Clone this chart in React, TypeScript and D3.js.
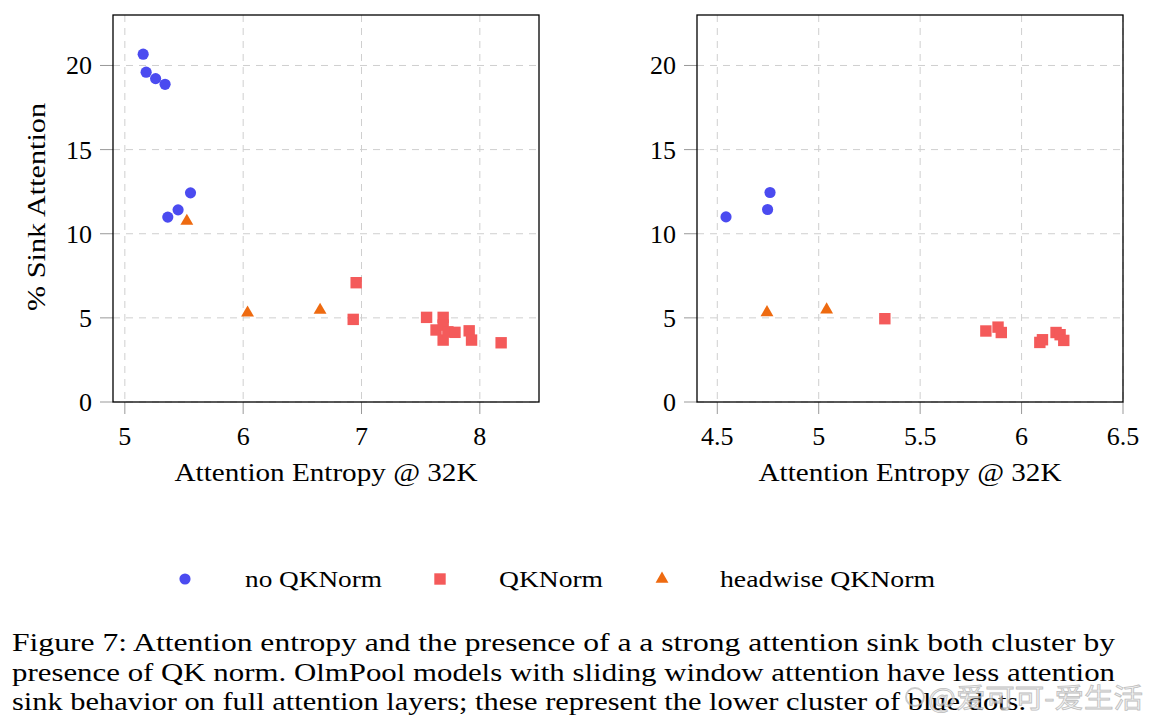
import * as d3 from 'd3';

// left panel: all models
const leftNoQkX = [5.155, 5.18, 5.26, 5.34, 5.555, 5.45, 5.363];
const leftNoQkY = [20.67, 19.6, 19.22, 18.88, 12.43, 11.42, 10.99];
const leftQkX = [6.955, 6.93, 7.55, 7.69, 7.63, 7.69, 7.69, 7.73, 7.79, 7.91, 7.93, 8.18];
const leftQkY = [7.09, 4.91, 5.03, 5.03, 4.28, 4.57, 3.68, 4.17, 4.14, 4.23, 3.68, 3.52];
const leftHeadX = [5.524, 6.037, 6.65];
const leftHeadY = [10.75, 5.3, 5.46];

// right panel
const rightNoQkX = [4.543, 4.748, 4.76];
const rightNoQkY = [11.0, 11.44, 12.45];
const rightQkX = [5.326, 5.824, 5.884, 5.9, 6.09, 6.103, 6.17, 6.19, 6.208];
const rightQkY = [4.95, 4.22, 4.45, 4.13, 3.54, 3.7, 4.13, 4.0, 3.66];
const rightHeadX = [4.745, 5.039];
const rightHeadY = [5.32, 5.48];

const yTicks = [0, 5, 10, 15, 20];
const leftXTicks = [5, 6, 7, 8];
const rightXTicks = [4.5, 5, 5.5, 6, 6.5];

const seriesNames = ['no QKNorm', 'QKNorm', 'headwise QKNorm'];
const captionLines = [
	'Figure 7: Attention entropy and the presence of a a strong attention sink both cluster by',
	'presence of QK norm. OlmPool models with sliding window attention have less attention',
	'sink behavior on full attention layers; these represent the lower cluster of blue dots.',
];

const BLUE = '#4b4bf0';
const RED = '#f45a5a';
const ORANGE = '#ee6a10';
const FONT = '"Liberation Serif", "DejaVu Serif", serif';

const circlePath = d3.symbol().type(d3.symbolCircle).size(98)() ?? '';
const squarePath = d3.symbol().type(d3.symbolSquare).size(130)() ?? '';
const trianglePath = d3.symbol().type(d3.symbolTriangle).size(72)() ?? '';

interface PanelProps {
	left: number;
	right: number;
	xDomain: [number, number];
	xTicks: number[];
	noQk: [number[], number[]];
	qk: [number[], number[]];
	head: [number[], number[]];
	yLabel?: boolean;
}

const TOP = 15;
const BOTTOM = 402;

const Panel = ({ left, right, xDomain, xTicks, noQk, qk, head, yLabel }: PanelProps) => {
	const x = d3.scaleLinear().domain(xDomain).range([left, right]);
	const y = d3.scaleLinear().domain([0, 23]).range([BOTTOM, TOP]);
	const fmt = (v: number) => (Number.isInteger(v) ? String(v) : String(v));

	const marks = (xs: number[], ys: number[], d: string, fill: string) =>
		xs.map((v, i) => (
			<path key={i} d={d} fill={fill} transform={`translate(${x(v)},${y(ys[i])})`} />
		));

	return (
		<g>
			{xTicks.map((t) => (
				<line key={'gx' + t} x1={x(t)} x2={x(t)} y1={TOP} y2={BOTTOM}
					stroke='#cfcfcf' strokeDasharray='7 6' />
			))}
			{yTicks.map((t) => (
				<line key={'gy' + t} x1={left} x2={right} y1={y(t)} y2={y(t)}
					stroke='#cfcfcf' strokeDasharray='7 6' />
			))}
			{xTicks.map((t) => (
				<g key={'tx' + t}>
					<line x1={x(t)} x2={x(t)} y1={BOTTOM} y2={BOTTOM + 12} stroke='#999' />
					<text x={x(t)} y={445} textAnchor='middle' fontSize={26}>{fmt(t)}</text>
				</g>
			))}
			{yTicks.map((t) => (
				<g key={'ty' + t}>
					<line x1={left - 13} x2={left} y1={y(t)} y2={y(t)} stroke='#999' />
					<text x={left - 21} y={y(t) + 9} textAnchor='end' fontSize={26}>{t}</text>
				</g>
			))}
			<rect x={left} y={TOP} width={right - left} height={BOTTOM - TOP}
				fill='none' stroke='#000' strokeWidth={1.3} />
			{marks(qk[0], qk[1], squarePath, RED)}
			{marks(head[0], head[1], trianglePath, ORANGE)}
			{marks(noQk[0], noQk[1], circlePath, BLUE)}
			<text x={(left + right) / 2} y={481} textAnchor='middle' fontSize={26}
				textLength={303} lengthAdjust='spacingAndGlyphs'>
				Attention Entropy @ 32K
			</text>
			{yLabel && (
				<text transform={`translate(45,${(103 + 311) / 2}) rotate(-90)`} textAnchor='middle'
					fontSize={26} textLength={208} lengthAdjust='spacingAndGlyphs'>
					% Sink Attention
				</text>
			)}
		</g>
	);
};

const legendSymbols = [circlePath, squarePath, trianglePath];
const legendColors = [BLUE, RED, ORANGE];
const legendSymbolX = [185, 440, 662];
const legendTextX = [245, 499, 720];
const legendTextW = [137, 104, 215];

export default function App() {
	return (
		<svg width={1156} height={726} fontFamily={FONT}
			style={{ position: 'absolute', left: 0, top: 0, background: '#fff' }}>
			<Panel left={113} right={539} xDomain={[4.9, 8.5]} xTicks={leftXTicks}
				noQk={[leftNoQkX, leftNoQkY]} qk={[leftQkX, leftQkY]} head={[leftHeadX, leftHeadY]} yLabel />
			<Panel left={697} right={1123} xDomain={[4.4, 6.5]} xTicks={rightXTicks}
				noQk={[rightNoQkX, rightNoQkY]} qk={[rightQkX, rightQkY]} head={[rightHeadX, rightHeadY]} />

			{seriesNames.map((name, i) => (
				<g key={name}>
					<path d={legendSymbols[i]} fill={legendColors[i]}
						transform={`translate(${legendSymbolX[i]},579)`} />
					<text x={legendTextX[i]} y={587} fontSize={24}
						textLength={legendTextW[i]} lengthAdjust='spacingAndGlyphs'>{name}</text>
				</g>
			))}

			{captionLines.map((line, i) => (
				<text key={i} x={12} y={651 + i * 29.5} fontSize={26}
					textLength={i < 2 ? 1103 : 1014} lengthAdjust='spacingAndGlyphs'>
					{line}
				</text>
			))}

			{/* watermark */}
			<g opacity={0.75}>
				<circle cx={915} cy={697} r={9} fill='none' stroke='#bbb' strokeWidth={2} />
				<text x={928} y={708} fontSize={27} fontFamily='"Noto Sans CJK SC", sans-serif'
					fill='#eee' stroke='#aaa' strokeWidth={0.8} textLength={215} lengthAdjust='spacingAndGlyphs'>
					@爱可可-爱生活
				</text>
			</g>
		</svg>
	);
}
